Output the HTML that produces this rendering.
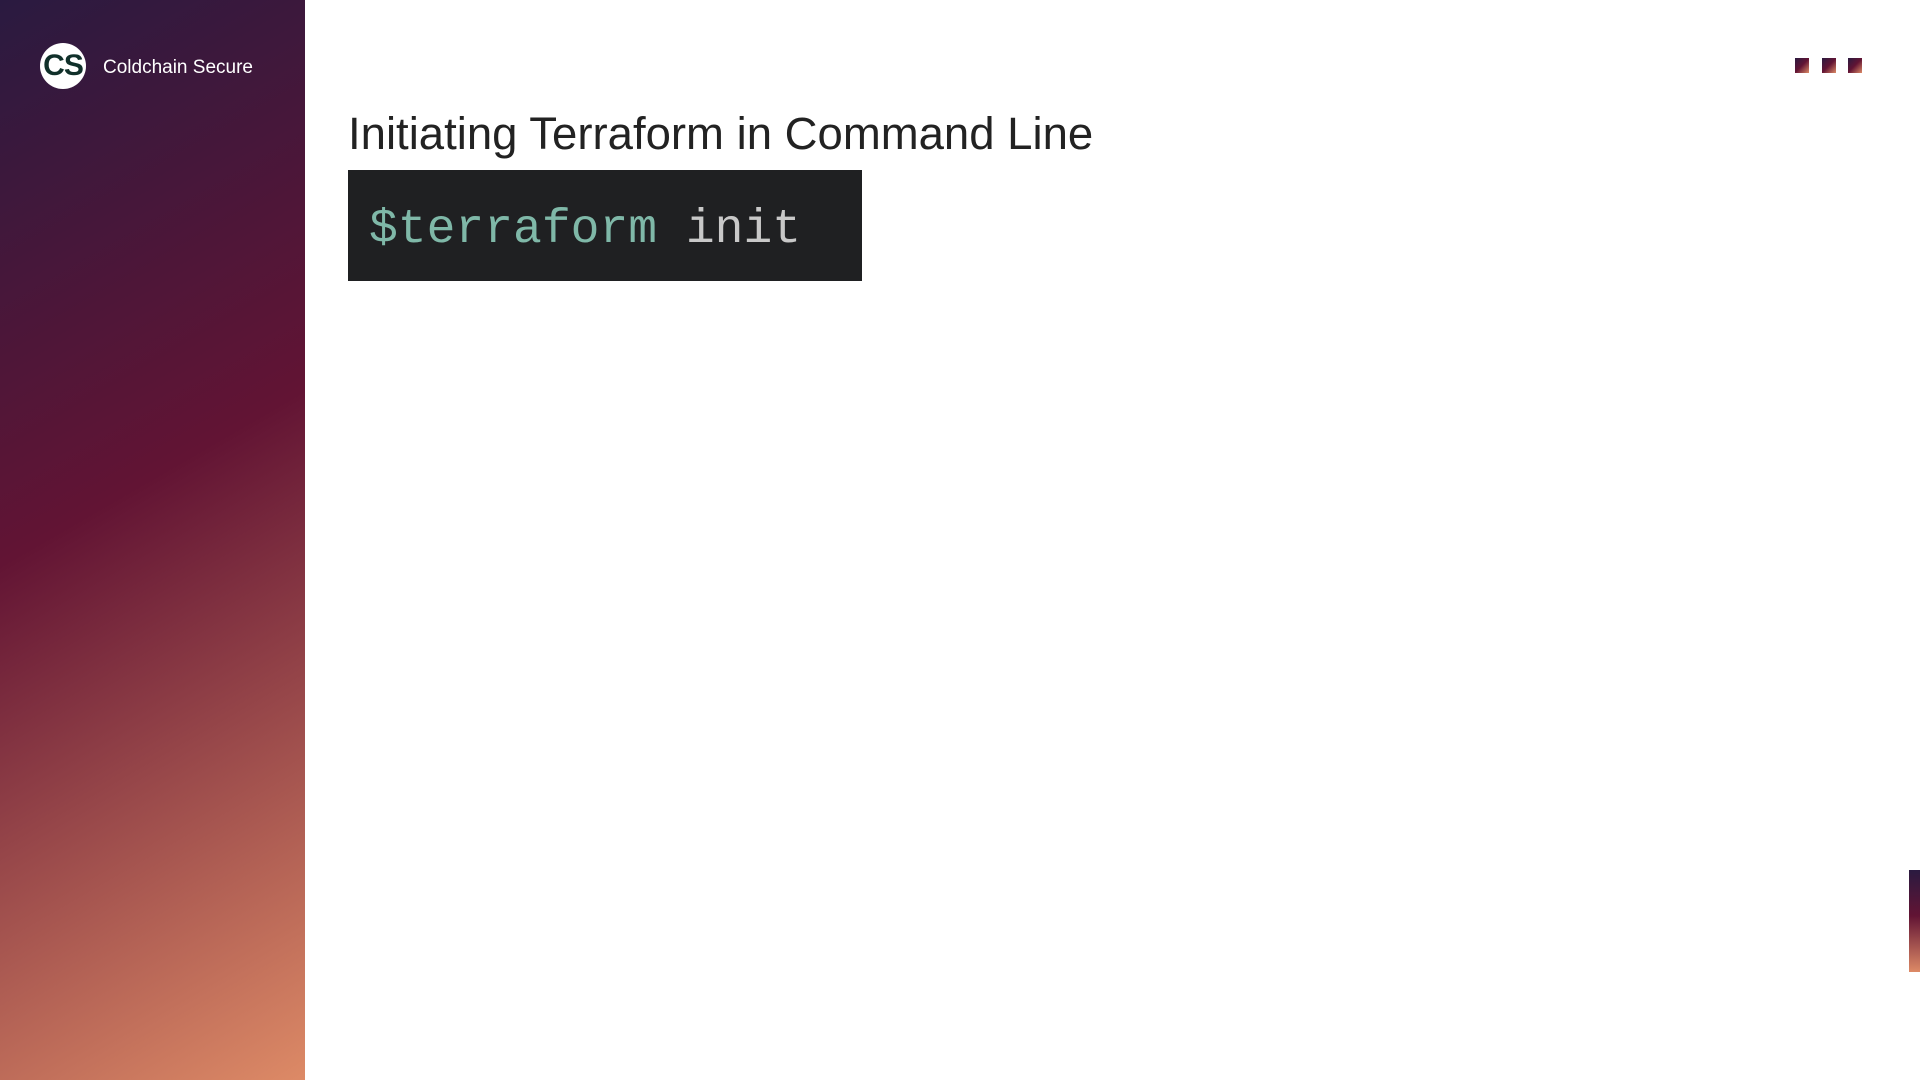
<!DOCTYPE html>
<html><head><meta charset="utf-8"><style>
html,body{margin:0;padding:0;width:1920px;height:1080px;overflow:hidden;background:#fff;font-family:"Liberation Sans",sans-serif}
.side{position:absolute;left:0;top:0;width:305px;height:1080px;background:linear-gradient(150deg,#2a1a40 0%,#621434 45%,#dd8a66 100%)}
.logo{position:absolute;left:40px;top:43px;width:46px;height:46px;border-radius:50%;background:#fff;text-align:center;font:bold 30px/46px "Liberation Sans Narrow","Liberation Sans",sans-serif;color:#10302a;letter-spacing:-1px}
.brand{position:absolute;left:103px;top:57px;color:#fff;font-size:19px}
.sq{position:absolute;top:58px;width:14px;height:15px;background:linear-gradient(135deg,#2a1a40,#621434 50%,#dd8a66)}
.title{position:absolute;left:348px;top:108px;font-size:45.5px;color:#222;white-space:nowrap}
.code{position:absolute;left:348px;top:170px;width:514px;height:111px;background:#1f2022}
.code span{position:absolute;left:21px;top:33px;font:48px "Liberation Mono",monospace;white-space:pre}
.bar{position:absolute;left:1909px;top:870px;width:11px;height:102px;background:linear-gradient(180deg,#2a1a40,#621434 45%,#dd8a66)}
</style></head><body>
<div class="side"></div>
<div class="logo">CS</div>
<div class="brand">Coldchain Secure</div>
<div class="sq" style="left:1795px"></div>
<div class="sq" style="left:1822px"></div>
<div class="sq" style="left:1848px"></div>
<div class="title">Initiating Terraform in Command Line</div>
<div class="code"><span><span style="position:static;color:#7fb8a8;font:inherit">$terraform</span><span style="position:static;color:#c8c8c8;font:inherit"> init</span></span></div>
<div class="bar"></div>
</body></html>
